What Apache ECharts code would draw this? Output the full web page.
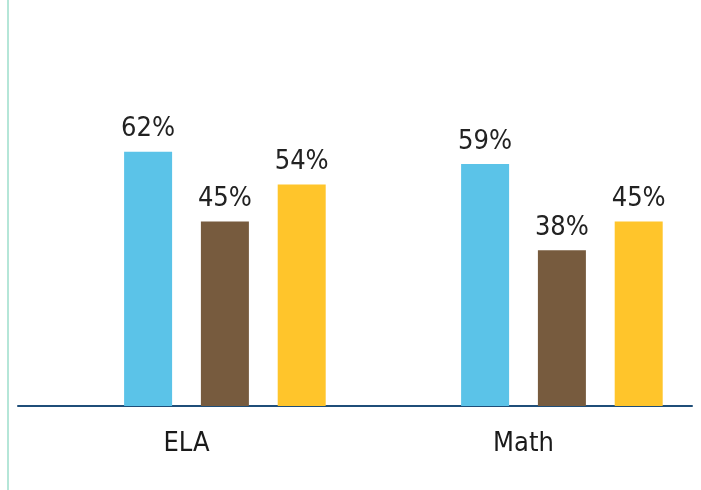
<!DOCTYPE html>
<html>
<head>
<meta charset="utf-8">
<script src="https://cdn.jsdelivr.net/npm/echarts@6/dist/echarts.min.js"></script>
<style>
  html, body { margin: 0; padding: 0; background: #fff; }
  #chart { width: 701px; height: 490px; }
</style>
</head>
<body>
<div id="chart"></div>
<script>
// Subjects on the x axis
const categories = ['ELA', 'Math'];
// Percent values per group, one array per bar colour
const seriesBlue = [62, 59];
const seriesBrown = [45, 38];
const seriesYellow = [54, 45];
// Empty leading slot in each group (no bar drawn)
const seriesEmpty = [null, null];

const FONT = '"DejaVu Sans Condensed", "Liberation Sans Narrow", sans-serif';

const chart = echarts.init(document.getElementById('chart'), null, { renderer: 'canvas' });

function barSeries(name, data, color) {
  return {
    name: name,
    type: 'bar',
    data: data,
    barWidth: 48,
    barGap: '60%',
    itemStyle: { color: color },
    label: {
      show: true,
      position: 'top',
      distance: 9,
      formatter: '{c}%',
      fontFamily: FONT,
      fontSize: 27,
      color: '#222'
    }
  };
}

chart.setOption({
  animation: false,
  grid: { left: 18, right: 9, top: 0, bottom: 84 },
  xAxis: {
    type: 'category',
    data: categories,
    axisLine: { lineStyle: { color: '#1f4e79', width: 2 } },
    axisTick: { show: false },
    axisLabel: {
      margin: 24,
      fontFamily: FONT,
      fontSize: 27,
      color: '#1a1a1a'
    }
  },
  yAxis: {
    type: 'value',
    min: 0,
    max: 99,
    show: false
  },
  series: [
    barSeries('Empty', seriesEmpty, 'transparent'),
    barSeries('Blue', seriesBlue, '#5bc3e8'),
    barSeries('Brown', seriesBrown, '#775b3e'),
    barSeries('Yellow', seriesYellow, '#ffc52b')
  ],
  graphic: [{
    type: 'line',
    shape: { x1: 8, y1: 0, x2: 8, y2: 490 },
    style: { stroke: '#b5e6d8', lineWidth: 2 }
  }]
});
</script>
</body>
</html>
